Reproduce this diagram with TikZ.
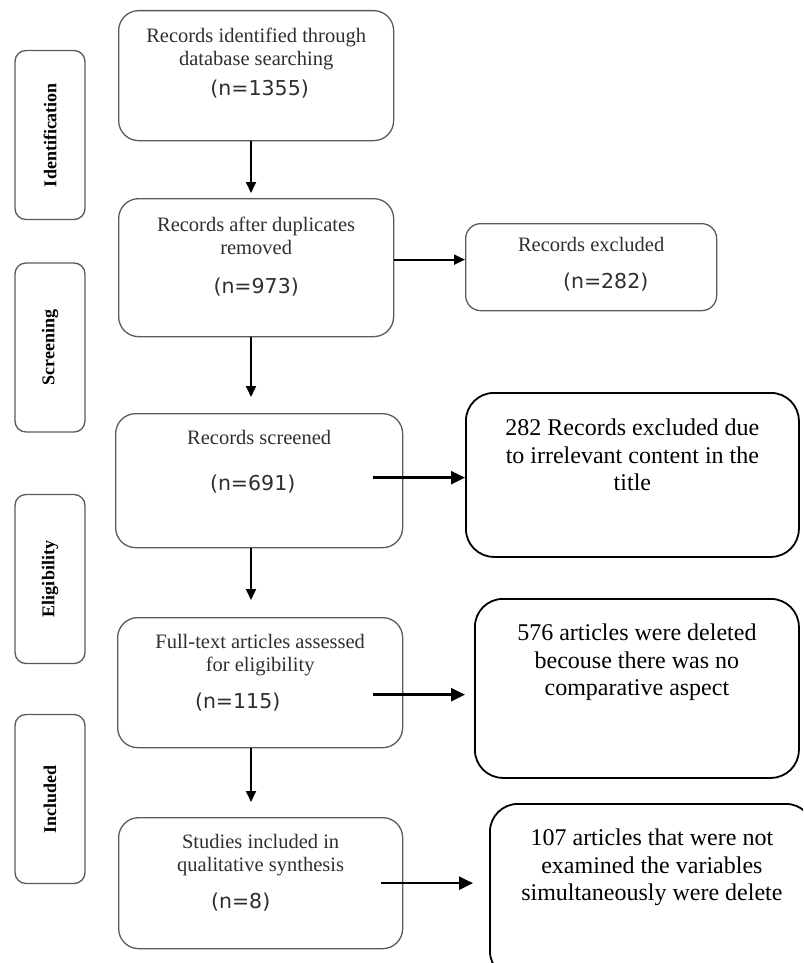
\documentclass[tikz,border=0pt]{standalone}
\usepackage{fontspec}
\setmainfont{Liberation Serif}
\newfontfamily\numfont{DejaVu Sans}
\usepackage{tikz}
\usetikzlibrary{arrows.meta,calc}

\definecolor{boxgray}{HTML}{5A5A5A}
\definecolor{txtgray}{HTML}{2E2E2E}
% box height, box width, first baseline, lines
\newcommand{\boxtext}[4]{\parbox[c][#1][t]{#2}{\centering\rule{0pt}{#3}#4\par}}

\begin{document}
\begin{tikzpicture}[x=1pt, y=-1pt,
  mainbox/.style={draw=boxgray, line width=1.3pt, rounded corners=20pt, inner sep=0pt, anchor=north west, text=txtgray, font=\fontsize{20.5}{23}\selectfont},
  sidebox/.style={draw=black, line width=1.8pt, rounded corners=28pt, inner sep=0pt, anchor=north west, font=\fontsize{24}{27.5}\selectfont},
  stagebox/.style={draw=boxgray, line width=1.3pt, rounded corners=11pt, rotate=90, minimum width=169pt, minimum height=70pt, font=\bfseries\fontsize{18}{20}\selectfont},
  thinarrow/.style={line width=1.8pt, -{Triangle[length=11pt,width=10pt]}},
  thickarrow/.style={line width=2.4pt, -{Triangle[length=14pt,width=13pt]}}]
\useasboundingbox (0,0) rectangle (803,963);
\clip (0,0) rectangle (803,963);
% stages
\node[stagebox] (ident) at (50,135) {Identification};
\node[stagebox] (screen) at (50,347.5) {Screening};
\node[stagebox] (elig) at (50,579) {Eligibility};
\node[stagebox] (incl) at (50,799) {Included};
% main column
\node[mainbox] (b1) at (118,10) {\boxtext{130pt}{275pt}{32pt}{Records identified through\\database searching\\[7pt]\hspace*{7pt}{\numfont (n=1355)}}};
\node[mainbox] (b2) at (118,198) {\boxtext{138pt}{275pt}{33pt}{Records after duplicates\\removed\\[16pt]{\numfont (n=973)}}};
\node[mainbox] (b3) at (115,413) {\boxtext{134pt}{287pt}{31pt}{Records screened\\[23pt]\hspace*{-13pt}{\numfont (n=691)}}};
\node[mainbox] (b4) at (117,617) {\boxtext{130pt}{285pt}{31pt}{Full-text articles assessed\\for eligibility\\[14pt]\hspace*{-45pt}{\numfont (n=115)}}};
\node[mainbox] (b5) at (118,817) {\boxtext{131pt}{284pt}{31pt}{Studies included in\\qualitative synthesis\\[14pt]\hspace*{-40pt}{\numfont (n=8)}}};
% excluded boxes
\node[mainbox, rounded corners=15pt] (e0) at (465,223) {\boxtext{87pt}{251pt}{28pt}{Records excluded\\[14pt]\hspace*{29pt}{\numfont (n=282)}}};
\node[sidebox] (r1) at (465,392) {\boxtext{164pt}{333pt}{43pt}{282 Records excluded due\\to irrelevant content in the\\title}};
\node[sidebox] (r2) at (474,598) {\boxtext{179pt}{324pt}{42pt}{576 articles were deleted\\becouse there was no\\comparative aspect}};
\node[sidebox] (r3) at (489,803) {\boxtext{175pt}{324pt}{42pt}{107 articles that were not\\examined the variables\\simultaneously were delete}};
% arrows
\coordinate (axis) at (251,0);
\draw[thinarrow, shorten >=5pt] (b1.south -| axis) -- (b2.north -| axis);
\draw[thinarrow, shorten >=16pt] (b2.south -| axis) -- (b3.north -| axis);
\draw[thinarrow, shorten >=17pt] (b3.south -| axis) -- (b4.north -| axis);
\draw[thinarrow, shorten >=15pt] (b4.south -| axis) -- (b5.north -| axis);
\draw[thinarrow] ([yshift=8pt]b2.east) -- ([yshift=8pt]b2.east -| e0.west);
\draw[thickarrow] ([xshift=-30pt,yshift=3pt]b3.east) -- ([yshift=3pt]b3.east -| r1.west);
\draw[thickarrow, shorten >=9pt] ([xshift=-30pt,yshift=-12pt]b4.east) -- ([yshift=-12pt]b4.east -| r2.west);
\draw[thickarrow, shorten >=16pt] ([xshift=-22pt]b5.east) -- (b5.east -| r3.west);
\end{tikzpicture}
\end{document}
